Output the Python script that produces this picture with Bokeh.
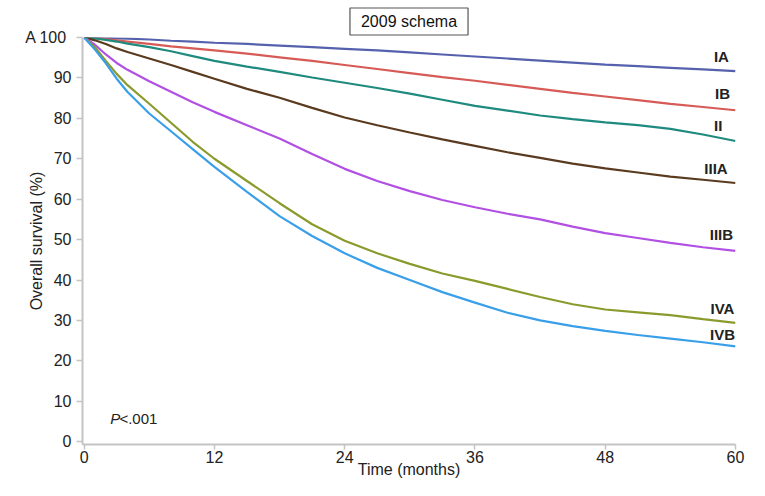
from bokeh.plotting import figure
from bokeh.models import Label, Range1d, FixedTicker
from bokeh.embed import file_html
from bokeh.resources import INLINE

months = [0, 1, 2, 3, 4, 6, 8, 10, 12, 15, 18, 21, 24, 27, 30, 33, 36, 39, 42, 45, 48, 51, 54, 57, 60]

stage_IA = [100, 100, 99.9, 99.8, 99.7, 99.5, 99.2, 99.0, 98.7, 98.4, 98.0, 97.6, 97.2, 96.8, 96.3, 95.8, 95.3, 94.8, 94.3, 93.8, 93.3, 92.9, 92.5, 92.1, 91.7]
stage_IB = [100, 99.9, 99.6, 99.3, 99.0, 98.4, 97.8, 97.3, 96.8, 96.0, 95.1, 94.2, 93.2, 92.2, 91.2, 90.2, 89.3, 88.3, 87.3, 86.3, 85.4, 84.5, 83.6, 82.8, 82.0]
stage_II = [100, 99.8, 99.4, 99.0, 98.5, 97.6, 96.6, 95.4, 94.2, 92.8, 91.5, 90.1, 88.8, 87.5, 86.1, 84.6, 83.1, 81.9, 80.7, 79.8, 79.0, 78.3, 77.4, 76.0, 74.4]
stage_IIIA = [100, 99.3, 98.4, 97.3, 96.4, 94.8, 93.2, 91.5, 89.8, 87.3, 85.1, 82.6, 80.2, 78.3, 76.5, 74.8, 73.2, 71.6, 70.2, 68.8, 67.6, 66.6, 65.6, 64.8, 64.0]
stage_IIIB = [100, 98.2, 95.8, 93.7, 92.0, 89.2, 86.6, 84.0, 81.6, 78.3, 75.0, 71.2, 67.5, 64.5, 62.0, 59.8, 58.0, 56.4, 55.0, 53.2, 51.6, 50.4, 49.2, 48.1, 47.2]
stage_IVA = [100, 97.6, 94.2, 91.0, 88.2, 83.6, 78.9, 74.2, 70.0, 64.5, 59.0, 53.8, 49.7, 46.6, 44.0, 41.6, 39.8, 37.8, 35.8, 34.0, 32.7, 32.0, 31.3, 30.3, 29.4]
stage_IVB = [100, 97.0, 93.6, 89.8, 86.5, 81.2, 76.8, 72.4, 68.0, 61.8, 55.8, 50.9, 46.6, 43.0, 40.0, 37.0, 34.4, 31.9, 30.0, 28.6, 27.4, 26.4, 25.5, 24.6, 23.6]

stage_names = ["IA", "IB", "II", "IIIA", "IIIB", "IVA", "IVB"]
series = [stage_IA, stage_IB, stage_II, stage_IIIA, stage_IIIB, stage_IVA, stage_IVB]
colors = ["#5561ad", "#d65a56", "#1f8a7e", "#5a3b1f", "#b150e2", "#8b9a2c", "#3a9fe9"]

x_ticks = [0, 12, 24, 36, 48, 60]
y_ticks = [0, 10, 20, 30, 40, 50, 60, 70, 80, 90, 100]
y_tick_text = {100: "A  100"}

# label anchor positions (layout, in data coords)
label_x = [58.7, 58.8, 58.4, 58.2, 58.7, 58.8, 58.8]
label_y = [95.2, 86.1, 78.2, 67.6, 51.3, 32.9, 26.6]

FONT = "Liberation Sans"

p = figure(width=749, height=480, output_backend="svg", toolbar_location=None,
           x_range=Range1d(-0.15, 60), y_range=Range1d(-0.7, 100),
           min_border_left=82, min_border_right=14, min_border_top=37, min_border_bottom=0)
p.outline_line_color = None
p.xgrid.visible = False
p.ygrid.visible = False
p.background_fill_color = "white"

p.title.text = "2009 schema"
p.title.align = "center"
p.title.text_font = FONT
p.title.text_font_size = "16px"
p.title.text_font_style = "normal"
p.title.text_color = "#111111"
p.title.border_line_color = "#555555"
p.title.border_line_width = 1.2
p.title.background_fill_color = "white"
p.title.padding = dict(left=11, right=11, top=5, bottom=5)
p.title.standoff = 5

for ys, c in zip(series, colors):
    p.line(months, ys, line_color=c, line_width=2.2)

for ax in (p.xaxis[0], p.yaxis[0]):
    ax.axis_line_color = "#c4c4c4"
    ax.axis_line_width = 2
    ax.major_tick_line_color = "#c4c4c4"
    ax.major_tick_line_width = 1.5
    ax.major_tick_in = 0
    ax.major_tick_out = 6
    ax.minor_tick_line_color = None
    ax.major_label_text_font = FONT
    ax.major_label_text_font_size = "16px"
    ax.major_label_text_color = "#222222"
    ax.axis_label_text_font = FONT
    ax.axis_label_text_font_size = "16px"
    ax.axis_label_text_font_style = "normal"
    ax.axis_label_text_color = "#222222"

p.xaxis.ticker = FixedTicker(ticks=x_ticks)
p.yaxis.ticker = FixedTicker(ticks=y_ticks)
p.yaxis.major_label_overrides = y_tick_text
p.xaxis.axis_label = "Time (months)"
p.yaxis.axis_label = "Overall survival (%)"
p.xaxis.major_tick_out = 5
p.xaxis.major_label_standoff = 1
p.xaxis.axis_label_standoff = -5
p.yaxis.major_label_standoff = 5
p.yaxis.axis_label_standoff = -23

for name, lx, ly in zip(stage_names, label_x, label_y):
    p.add_layout(Label(x=lx, y=ly, text=name, text_align="center", text_baseline="middle",
                       text_font=FONT, text_font_size="15px", text_font_style="bold",
                       text_color="#222222"))

p.add_layout(Label(x=2.4, y=5.8, text="P", text_align="left", text_baseline="middle",
                   text_font=FONT, text_font_size="15px", text_font_style="italic",
                   text_color="#222222"))
p.add_layout(Label(x=3.25, y=5.8, text="<.001", text_align="left", text_baseline="middle",
                   text_font=FONT, text_font_size="15px", text_color="#222222"))

open("out.html", "w").write(file_html(p, INLINE))
